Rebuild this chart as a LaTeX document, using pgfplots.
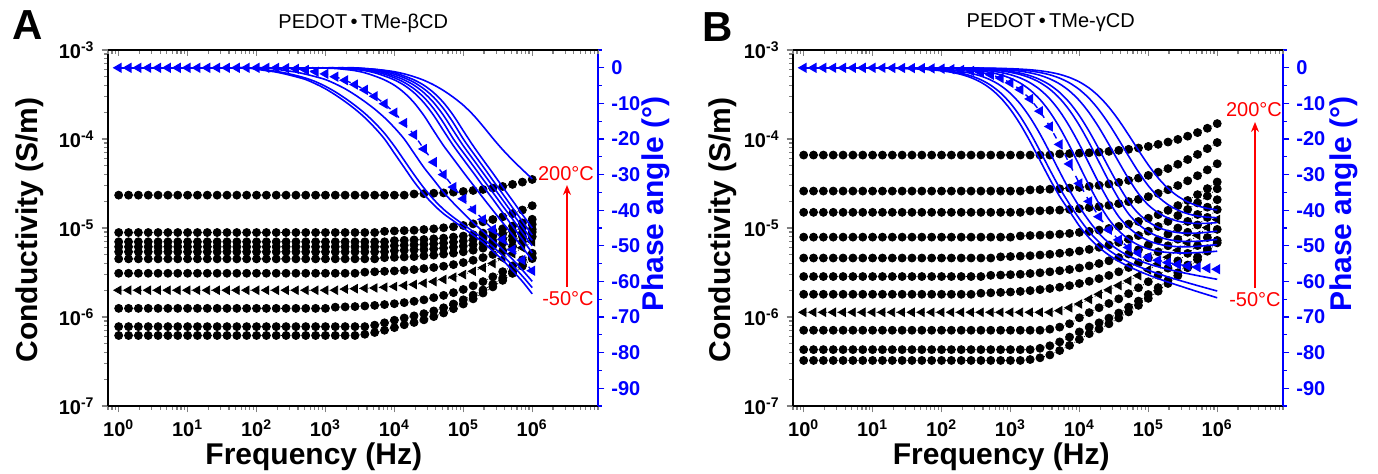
\documentclass[border=0pt]{standalone}
\usepackage{fontspec}
\setmainfont{Liberation Sans}
\usepackage{pgfplots}
\pgfplotsset{compat=1.18}
\usepackage{pgfplotstable}
\usetikzlibrary{arrows.meta}

% Panel A: PEDOT-TMe-beta-CD ; s1..s11 = conductivity (200 C ... -50 C), p1..p11 = phase angle
\pgfplotstableread{
f s1 s2 s3 s4 s5 s6 s7 s8 s9 s10 s11 p1 p2 p3 p4 p5 p6 p7 p8 p9 p10 p11
1 2.34e-5 8.9e-6 7e-6 6.15e-6 5.4e-6 4.5e-6 3.1e-6 2e-6 1.25e-6 7.8e-7 6.2e-7 0 0 0 0 0 0 0 0 0 0 0
1.3895 2.34e-5 8.9e-6 7e-6 6.15e-6 5.4e-6 4.5e-6 3.1e-6 2e-6 1.25e-6 7.8e-7 6.2e-7 0 0 0 0 0 0 0 0 0 0 0
1.9307 2.34e-5 8.9e-6 7e-6 6.15e-6 5.4e-6 4.5e-6 3.1e-6 2e-6 1.25e-6 7.8e-7 6.2e-7 0 0 0 0 0 0 0 0 0 0 0
2.6827 2.34e-5 8.9e-6 7e-6 6.15e-6 5.4e-6 4.5e-6 3.1e-6 2e-6 1.25e-6 7.8e-7 6.2e-7 0 0 0 0 0 0 0 0 0 0 0
3.7276 2.34e-5 8.9e-6 7e-6 6.15e-6 5.4e-6 4.5e-6 3.1e-6 2e-6 1.25e-6 7.8e-7 6.2e-7 0 0 0 0 0 0 0 0 0 0 0
5.1795 2.34e-5 8.9e-6 7e-6 6.15e-6 5.4e-6 4.5e-6 3.1e-6 2e-6 1.25e-6 7.8e-7 6.2e-7 0 0 0 0 0 0 0 0 0 0 0
7.1969 2.34e-5 8.9e-6 7e-6 6.15e-6 5.4e-6 4.5e-6 3.1e-6 2e-6 1.25e-6 7.8e-7 6.2e-7 0 0 0 0 0 0 0 0 0 0 0
10 2.34e-5 8.9e-6 7e-6 6.15e-6 5.4e-6 4.5e-6 3.1e-6 2e-6 1.25e-6 7.8e-7 6.2e-7 0 0 0 0 0 0 0 0 0 0 0
13.895 2.34e-5 8.9e-6 7e-6 6.15e-6 5.4e-6 4.5e-6 3.1e-6 2e-6 1.25e-6 7.8e-7 6.2e-7 0 0 0 0 0 0 0 0 0 0 0
19.307 2.34e-5 8.9e-6 7e-6 6.15e-6 5.4e-6 4.5e-6 3.1e-6 2e-6 1.25e-6 7.8e-7 6.2e-7 0 0 0 0 0 0 0 0 0 0 0
26.827 2.34e-5 8.9e-6 7e-6 6.15e-6 5.4e-6 4.5e-6 3.1e-6 2e-6 1.25e-6 7.8e-7 6.2e-7 0 0 0 0 0 0 0 0 0 0 0
37.276 2.34e-5 8.9e-6 7e-6 6.15e-6 5.4e-6 4.5e-6 3.1e-6 2e-6 1.25e-6 7.8e-7 6.2e-7 0 0 0 0 0 0 0 0 0 0 0
51.795 2.34e-5 8.9e-6 7e-6 6.15e-6 5.4e-6 4.5e-6 3.1e-6 2e-6 1.25e-6 7.8e-7 6.2e-7 0 0 0 0 0 0 0 0 0 0 0
71.969 2.34e-5 8.9e-6 7e-6 6.15e-6 5.4e-6 4.5e-6 3.1e-6 2e-6 1.25e-6 7.8e-7 6.2e-7 0 0 0 0 0 0 0 0 0 0 0
100 2.34e-5 8.9e-6 7e-6 6.15e-6 5.4e-6 4.5e-6 3.1e-6 2e-6 1.25e-6 7.8e-7 6.2e-7 0 0 0 0 0 0 0 0 0 -0.2 -0.4
138.95 2.34e-5 8.9e-6 7e-6 6.15e-6 5.4e-6 4.5e-6 3.1e-6 2e-6 1.25e-6 7.8e-7 6.2e-7 0 0 0 0 0 0 0 0 0 -0.6 -0.8
193.07 2.34e-5 8.9e-6 7e-6 6.15e-6 5.4e-6 4.5e-6 3.1e-6 2e-6 1.25e-6 7.8e-7 6.2e-7 0 0 0 0 0 0 0 0 -0.4 -1.0 -1.2
268.27 2.34e-5 8.9e-6 7e-6 6.15e-6 5.4e-6 4.5e-6 3.1e-6 2e-6 1.25e-6 7.8e-7 6.2e-7 0 0 0 0 0 0 0 -0.1 -0.8 -1.5 -1.8
372.76 2.34e-5 8.9e-6 7e-6 6.15e-6 5.4e-6 4.5e-6 3.1e-6 2e-6 1.25e-6 7.8e-7 6.2e-7 0 0 0 0 0 0 0 -0.3 -1.2 -2.15 -2.5
517.95 2.34e-5 8.9e-6 7e-6 6.15e-6 5.4e-6 4.5e-6 3.1e-6 2e-6 1.25e-6 7.8e-7 6.2e-7 0 0 0 0 0 0 0 -0.6 -1.8 -2.9 -3.3
719.69 2.34e-5 8.9e-6 7e-6 6.15e-6 5.4e-6 4.5e-6 3.1e-6 2e-6 1.25e-6 7.8e-7 6.2e-7 0 0 0 0 0 0 0 -1.1 -2.5 -3.9 -4.5
1000 2.34e-5 8.9e-6 7e-6 6.15e-6 5.4e-6 4.5e-6 3.1e-6 2e-6 1.25e-6 7.8e-7 6.2e-7 0 0 0 0 0 0 -0.07 -1.7 -3.3 -5.2 -5.9
1389.5 2.34e-5 8.9e-6 7e-6 6.15e-6 5.4e-6 4.5e-6 3.1e-6 2e-6 1.29e-6 7.8e-7 6.2e-7 0 0 0 0 0 -0.07 -0.2 -2.5 -4.5 -6.75 -7.6
1930.7 2.34e-5 8.9e-6 7e-6 6.15e-6 5.4e-6 4.5e-6 3.1e-6 2.06e-6 1.30e-6 7.8e-7 6.2e-7 0 0 0 -0.07 -0.15 -0.2 -0.45 -3.5 -5.9 -8.55 -9.5
2682.7 2.34e-5 8.9e-6 7e-6 6.15e-6 5.4e-6 4.5e-6 3.1e-6 2.08e-6 1.31e-6 7.8e-7 6.2e-7 0 -0.07 -0.15 -0.2 -0.3 -0.45 -0.8 -4.7 -7.6 -10.55 -11.6
3727.6 2.34e-5 8.9e-6 7e-6 6.15e-6 5.4e-6 4.5e-6 3.19e-6 2.10e-6 1.33e-6 7.8e-7 6.4e-7 -0.2 -0.2 -0.3 -0.45 -0.6 -0.8 -1.4 -6.2 -9.5 -12.8 -14.0
5179.5 2.34e-5 8.9e-6 7e-6 6.15e-6 5.4e-6 4.5e-6 3.22e-6 2.12e-6 1.35e-6 8.1e-7 6.7e-7 -0.4 -0.45 -0.6 -0.8 -1.1 -1.4 -2.3 -8.0 -11.6 -15.4 -16.8
7196.9 2.34e-5 9.17e-6 7e-6 6.15e-6 5.4e-6 4.64e-6 3.26e-6 2.16e-6 1.38e-6 8.6e-7 7.1e-7 -0.7 -0.8 -1.1 -1.4 -1.8 -2.3 -3.4 -10.1 -14 -18.4 -20
10000 2.34e-5 9.26e-6 7.21e-6 6.33e-6 5.56e-6 4.68e-6 3.29e-6 2.20e-6 1.41e-6 9.2e-7 7.6e-7 -1.1 -1.4 -1.8 -2.3 -2.8 -3.4 -4.9 -12.6 -16.8 -22 -24
13895 2.34e-5 9.35e-6 7.28e-6 6.40e-6 5.62e-6 4.73e-6 3.35e-6 2.26e-6 1.45e-6 9.75e-7 8.18e-7 -1.7 -2.3 -2.8 -3.4 -4.1 -4.9 -7.0 -15.5 -20 -26 -28
19307 2.41e-5 9.43e-6 7.35e-6 6.46e-6 5.67e-6 4.77e-6 3.41e-6 2.32e-6 1.50e-6 1.03e-6 8.68e-7 -2.5 -3.4 -4.1 -4.9 -5.9 -7.0 -9.8 -18.8 -24 -30 -32
26827 2.43e-5 9.61e-6 7.42e-6 6.52e-6 5.72e-6 4.86e-6 3.50e-6 2.40e-6 1.56e-6 1.09e-6 9.30e-7 -3.5 -4.9 -5.9 -7.0 -8.3 -9.8 -13.4 -22.8 -28 -33.75 -35.5
37276 2.46e-5 9.79e-6 7.56e-6 6.64e-6 5.83e-6 4.95e-6 3.60e-6 2.50e-6 1.65e-6 1.17e-6 1.01e-6 -4.8 -7.0 -8.3 -9.8 -11.5 -13.4 -17.7 -26.5 -31.5 -37 -38.5
51795 2.48e-5 1.006e-5 7.70e-6 6.77e-6 5.94e-6 5.09e-6 3.72e-6 2.64e-6 1.75e-6 1.27e-6 1.11e-6 -6.4 -9.8 -11.5 -13.4 -15.5 -17.7 -21.9 -30 -35 -39.75 -41
71969 2.53e-5 1.032e-5 7.91e-6 6.95e-6 6.10e-6 5.22e-6 3.88e-6 2.80e-6 1.88e-6 1.40e-6 1.24e-6 -8.3 -13.4 -15.5 -17.7 -20 -21.9 -25.6 -33.5 -38 -42 -43
100000 2.57e-5 1.068e-5 8.12e-6 7.13e-6 6.26e-6 5.40e-6 4.09e-6 3.00e-6 2.04e-6 1.56e-6 1.40e-6 -10.5 -17.7 -20 -21.9 -23.8 -25.7 -29.3 -36.8 -40.8 -44 -45
138950 2.64e-5 1.113e-5 8.40e-6 7.38e-6 6.48e-6 5.63e-6 4.34e-6 3.26e-6 2.24e-6 1.76e-6 1.60e-6 -13.2 -21.9 -23.9 -25.7 -27.5 -29.4 -32.9 -39.8 -43.5 -46 -47
193070 2.71e-5 1.175e-5 8.75e-6 7.69e-6 6.75e-6 5.94e-6 4.65e-6 3.58e-6 2.5e-6 2.01e-6 1.86e-6 -16.4 -25.8 -27.7 -29.5 -31.3 -33.2 -36.5 -42.6 -46 -48 -49
268270 2.81e-5 1.246e-5 9.24e-6 8.12e-6 7.13e-6 6.30e-6 5.05e-6 4.0e-6 2.83e-6 2.34e-6 2.18e-6 -19.8 -29.6 -31.6 -33.3 -35 -36.9 -40 -45.4 -48.5 -50.25 -51.5
372760 2.93e-5 1.335e-5 9.80e-6 8.61e-6 7.56e-6 6.75e-6 5.55e-6 4.52e-6 3.23e-6 2.74e-6 2.58e-6 -23.0 -33.5 -35.4 -37.1 -38.8 -40.7 -43.5 -48.2 -51 -52.75 -54
517950 3.09e-5 1.451e-5 1.05e-5 9.23e-6 8.10e-6 7.34e-6 6.2e-6 5.16e-6 3.75e-6 3.24e-6 3.09e-6 -25.9 -37.3 -39.3 -40.9 -42.5 -44.5 -46.9 -51.1 -53.8 -55.5 -57
719690 3.28e-5 1.593e-5 1.141e-5 1.002e-5 8.80e-6 8.06e-6 7.01e-6 6.0e-6 4.39e-6 3.88e-6 3.73e-6 -28.6 -41.2 -43.1 -44.7 -46.3 -48.2 -50.4 -54 -56.8 -58.5 -60
1000000 3.51e-5 1.78e-5 1.253e-5 1.101e-5 9.67e-6 9.0e-6 8.0e-6 7.02e-6 5.2e-6 4.69e-6 4.53e-6 -31.2 -45 -47 -48.5 -50 -52 -54 -57 -60 -61.75 -63.5
}\tA

% Panel B: PEDOT-TMe-gamma-CD
\pgfplotstableread{
f s1 s2 s3 s4 s5 s6 s7 s8 s9 s10 s11 p1 p2 p3 p4 p5 p6 p7 p8 p9 p10 p11
1 6.6e-5 2.6e-5 1.5e-5 7.9e-6 4.6e-6 2.85e-6 1.8e-6 1.13e-6 7.1e-7 4.3e-7 3.25e-7 0 0 0 0 0 0 0 0 0 0 0
1.3895 6.6e-5 2.6e-5 1.5e-5 7.9e-6 4.6e-6 2.85e-6 1.8e-6 1.13e-6 7.1e-7 4.3e-7 3.25e-7 0 0 0 0 0 0 0 0 0 0 0
1.9307 6.6e-5 2.6e-5 1.5e-5 7.9e-6 4.6e-6 2.85e-6 1.8e-6 1.13e-6 7.1e-7 4.3e-7 3.25e-7 0 0 0 0 0 0 0 0 0 0 0
2.6827 6.6e-5 2.6e-5 1.5e-5 7.9e-6 4.6e-6 2.85e-6 1.8e-6 1.13e-6 7.1e-7 4.3e-7 3.25e-7 0 0 0 0 0 0 0 0 0 0 0
3.7276 6.6e-5 2.6e-5 1.5e-5 7.9e-6 4.6e-6 2.85e-6 1.8e-6 1.13e-6 7.1e-7 4.3e-7 3.25e-7 0 0 0 0 0 0 0 0 0 0 0
5.1795 6.6e-5 2.6e-5 1.5e-5 7.9e-6 4.6e-6 2.85e-6 1.8e-6 1.13e-6 7.1e-7 4.3e-7 3.25e-7 0 0 0 0 0 0 0 0 0 0 0
7.1969 6.6e-5 2.6e-5 1.5e-5 7.9e-6 4.6e-6 2.85e-6 1.8e-6 1.13e-6 7.1e-7 4.3e-7 3.25e-7 0 0 0 0 0 0 0 0 0 0 -0.03
10 6.6e-5 2.6e-5 1.5e-5 7.9e-6 4.6e-6 2.85e-6 1.8e-6 1.13e-6 7.1e-7 4.3e-7 3.25e-7 0 0 0 0 0 0 0 0 0 -0.04 -0.05
13.895 6.6e-5 2.6e-5 1.5e-5 7.9e-6 4.6e-6 2.85e-6 1.8e-6 1.13e-6 7.1e-7 4.3e-7 3.25e-7 0 0 0 0 0 0 0 0 -0.04 -0.06 -0.07
19.307 6.6e-5 2.6e-5 1.5e-5 7.9e-6 4.6e-6 2.85e-6 1.8e-6 1.13e-6 7.1e-7 4.3e-7 3.25e-7 0 0 0 0 0 0 0 -0.03 -0.06 -0.09 -0.11
26.827 6.6e-5 2.6e-5 1.5e-5 7.9e-6 4.6e-6 2.85e-6 1.8e-6 1.13e-6 7.1e-7 4.3e-7 3.25e-7 0 0 0 0 0 0 -0.03 -0.05 -0.09 -0.13 -0.17
37.276 6.6e-5 2.6e-5 1.5e-5 7.9e-6 4.6e-6 2.85e-6 1.8e-6 1.13e-6 7.1e-7 4.3e-7 3.25e-7 0 0 0 0 0 -0.03 -0.05 -0.08 -0.14 -0.20 -0.24
51.795 6.6e-5 2.6e-5 1.5e-5 7.9e-6 4.6e-6 2.85e-6 1.8e-6 1.13e-6 7.1e-7 4.3e-7 3.25e-7 0 0 0 -0.02 -0.03 -0.05 -0.08 -0.11 -0.21 -0.30 -0.37
71.969 6.6e-5 2.6e-5 1.5e-5 7.9e-6 4.6e-6 2.85e-6 1.8e-6 1.13e-6 7.1e-7 4.3e-7 3.25e-7 0 0 -0.02 -0.04 -0.05 -0.08 -0.12 -0.17 -0.31 -0.46 -0.56
100 6.6e-5 2.6e-5 1.5e-5 7.9e-6 4.6e-6 2.85e-6 1.8e-6 1.13e-6 7.1e-7 4.3e-7 3.25e-7 0 -0.02 -0.04 -0.06 -0.07 -0.11 -0.18 -0.25 -0.47 -0.69 -0.84
138.95 6.6e-5 2.6e-5 1.5e-5 7.9e-6 4.6e-6 2.85e-6 1.8e-6 1.13e-6 7.1e-7 4.3e-7 3.25e-7 -0.02 -0.03 -0.05 -0.09 -0.11 -0.17 -0.26 -0.38 -0.70 -1.02 -1.25
193.07 6.6e-5 2.6e-5 1.5e-5 7.9e-6 4.6e-6 2.85e-6 1.8e-6 1.13e-6 7.1e-7 4.3e-7 3.25e-7 -0.03 -0.05 -0.08 -0.13 -0.17 -0.25 -0.39 -0.58 -1.04 -1.53 -1.87
268.27 6.6e-5 2.6e-5 1.5e-5 7.9e-6 4.6e-6 2.85e-6 1.8e-6 1.13e-6 7.1e-7 4.3e-7 3.25e-7 -0.05 -0.08 -0.12 -0.20 -0.25 -0.38 -0.59 -0.87 -1.56 -2.28 -2.77
372.76 6.6e-5 2.6e-5 1.5e-5 7.9e-6 4.6e-6 2.85e-6 1.85e-6 1.13e-6 7.1e-7 4.3e-7 3.25e-7 -0.07 -0.12 -0.19 -0.30 -0.38 -0.58 -0.89 -1.30 -2.32 -3.36 -4.06
517.95 6.6e-5 2.6e-5 1.5e-5 7.9e-6 4.6e-6 2.94e-6 1.87e-6 1.13e-6 7.1e-7 4.3e-7 3.25e-7 -0.11 -0.18 -0.28 -0.45 -0.57 -0.87 -1.33 -1.94 -3.43 -4.90 -5.90
719.69 6.6e-5 2.6e-5 1.5e-5 7.9e-6 4.74e-6 2.96e-6 1.89e-6 1.13e-6 7.1e-7 4.3e-7 3.25e-7 -0.16 -0.26 -0.42 -0.67 -0.85 -1.30 -1.97 -2.87 -5.00 -7.06 -8.41
1000 6.6e-5 2.6e-5 1.5e-5 7.9e-6 4.78e-6 2.99e-6 1.91e-6 1.13e-6 7.1e-7 4.3e-7 3.25e-7 -0.24 -0.40 -0.63 -1.00 -1.28 -1.94 -2.93 -4.22 -7.20 -9.96 -11.73
1389.5 6.6e-5 2.6e-5 1.5e-5 8.14e-6 4.83e-6 3.02e-6 1.94e-6 1.13e-6 7.1e-7 4.3e-7 3.25e-7 -0.37 -0.59 -0.95 -1.50 -1.90 -2.87 -4.30 -6.13 -10.15 -13.70 -15.88
1930.7 6.6e-5 2.68e-5 1.55e-5 8.22e-6 4.88e-6 3.08e-6 1.98e-6 1.13e-6 7.1e-7 4.3e-7 3.33e-7 -0.55 -0.89 -1.42 -2.23 -2.82 -4.22 -6.24 -8.74 -13.97 -18.23 -20.72
2682.7 6.6e-5 2.70e-5 1.56e-5 8.30e-6 4.97e-6 3.14e-6 2.03e-6 1.13e-6 7.1e-7 4.45e-7 3.48e-7 -0.83 -1.33 -2.10 -3.30 -4.14 -6.13 -8.90 -12.18 -18.58 -23.34 -26.0
3727.6 6.6e-5 2.73e-5 1.58e-5 8.37e-6 5.06e-6 3.22e-6 2.09e-6 1.13e-6 7.3e-7 4.75e-7 3.75e-7 -1.24 -1.97 -3.11 -4.81 -6.02 -8.74 -12.41 -16.49 -23.79 -28.66 -31.28
5179.5 6.80e-5 2.76e-5 1.59e-5 8.53e-6 5.20e-6 3.31e-6 2.16e-6 1.18e-6 7.7e-7 5.25e-7 4.2e-7 -1.84 -2.91 -4.53 -6.93 -8.58 -12.18 -16.79 -21.51 -29.21 -33.77 -36.12
7196.9 6.86e-5 2.81e-5 1.62e-5 8.69e-6 5.34e-6 3.42e-6 2.25e-6 1.27e-6 8.4e-7 5.95e-7 4.8e-7 -2.72 -4.24 -6.52 -9.77 -11.96 -16.49 -21.91 -27.0 -34.42 -38.30 -40.27
10000 6.93e-5 2.86e-5 1.65e-5 8.93e-6 5.52e-6 3.56e-6 2.38e-6 1.40e-6 9.8e-7 6.8e-7 5.6e-7 -3.96 -6.11 -9.20 -13.44 -16.18 -21.51 -27.5 -32.49 -39.03 -42.41 -44.43
13895 7.0e-5 2.94e-5 1.70e-5 9.16e-6 5.75e-6 3.76e-6 2.52e-6 1.58e-6 1.12e-6 7.70e-7 6.5e-7 -5.70 -8.62 -12.65 -17.88 -21.12 -27.0 -33.09 -37.51 -43.09 -46.05 -47.78
19307 7.13e-5 3.02e-5 1.74e-5 9.48e-6 6.07e-6 3.99e-6 2.70e-6 1.80e-6 1.271e-6 8.6e-7 7.34e-7 -8.05 -11.86 -16.82 -22.89 -26.5 -32.49 -38.21 -41.82 -46.52 -48.95 -50.47
26827 7.26e-5 3.12e-5 1.80e-5 9.88e-6 6.44e-6 4.28e-6 2.93e-6 2.02e-6 1.42e-6 9.72e-7 8.39e-7 -11.07 -15.77 -21.54 -28.11 -31.88 -37.51 -42.59 -45.49 -49.20 -51.23 -52.60
37276 7.46e-5 3.25e-5 1.88e-5 1.043e-5 6.90e-6 4.65e-6 3.22e-6 2.26e-6 1.60e-6 1.109e-6 9.75e-7 -14.72 -20.20 -26.46 -33.12 -36.82 -41.82 -45.80 -48.32 -51.25 -53.05 -54.34
51795 7.66e-5 3.43e-5 1.98e-5 1.106e-5 7.50e-6 5.10e-6 3.6e-6 2.55e-6 1.83e-6 1.29e-6 1.141e-6 -18.85 -24.80 -31.18 -37.56 -41.04 -44.85 -48.16 -50.46 -52.84 -54.55 -55.80
71969 7.92e-5 3.64e-5 2.10e-5 1.185e-5 8.23e-6 5.7e-6 4.07e-6 2.92e-6 2.13e-6 1.51e-6 1.352e-6 -23.15 -29.23 -35.35 -40.95 -43.93 -47.05 -49.80 -52.03 -54.07 -55.80 -57.05
100000 8.25e-5 3.90e-5 2.25e-5 1.288e-5 9.2e-6 6.44e-6 4.64e-6 3.39e-6 2.49e-6 1.79e-6 1.62e-6 -27.28 -33.14 -38.54 -43.24 -46.00 -48.55 -50.87 -53.19 -55.07 -56.87 -58.18
138950 8.71e-5 4.24e-5 2.45e-5 1.414e-5 1.04e-5 7.35e-6 5.4e-6 3.97e-6 2.95e-6 2.14e-6 1.95e-6 -30.93 -36.22 -40.70 -44.81 -47.39 -49.49 -51.53 -54.05 -55.89 -57.84 -59.21
193070 9.24e-5 4.65e-5 2.69e-5 1.58e-5 1.187e-5 8.55e-6 6.32e-6 4.70e-6 3.54e-6 2.58e-6 2.38e-6 -33.87 -38.42 -42.17 -45.77 -48.22 -50.01 -51.87 -54.71 -56.60 -58.74 -60.18
268270 9.9e-5 5.2e-5 3.0e-5 1.785e-5 1.38e-5 1.0e-5 7.49e-6 5.63e-6 4.27e-6 3.14e-6 2.91e-6 -36.07 -39.98 -43.07 -46.29 -48.65 -50.24 -52.01 -55.22 -57.24 -59.58 -61.09
372760 1.076e-4 5.88e-5 3.39e-5 2.04e-5 1.615e-5 1.186e-5 8.96e-6 6.79e-6 5.19e-6 3.84e-6 3.58e-6 -37.66 -41.00 -43.56 -46.47 -48.78 -50.26 -52.01 -55.65 -57.82 -60.38 -61.99
517950 1.181e-4 6.71e-5 3.87e-5 2.37e-5 1.914e-5 1.419e-5 1.082e-5 8.26e-6 6.35e-6 4.73e-6 4.42e-6 -38.75 -41.63 -43.72 -46.42 -48.72 -50.14 -51.91 -56.00 -58.37 -61.17 -62.88
719690 1.32e-4 7.8e-5 4.5e-5 2.77e-5 2.29e-5 1.713e-5 1.316e-5 1.01e-5 7.81e-6 5.84e-6 5.48e-6 -39.48 -41.96 -43.67 -46.20 -48.51 -49.93 -51.74 -56.31 -58.90 -61.94 -63.74
1000000 1.49e-4 9.13e-5 5.27e-5 3.29e-5 2.76e-5 2.08e-5 1.609e-5 1.243e-5 9.65e-6 7.25e-6 6.81e-6 -39.93 -42.09 -43.47 -45.87 -48.21 -49.65 -51.52 -56.59 -59.41 -62.70 -64.60
}\tB

\begin{document}
\begin{tikzpicture}
\path[use as bounding box] (0,0) rectangle (689pt,236.5pt);

% ================= Panel A =================
\begin{axis}[
  at={(54pt,33.5pt)}, anchor=south west, scale only axis, width=245pt, height=178pt,
  xmode=log, ymode=log, xmin=0.7, xmax=9e6, ymin=1e-7, ymax=1e-3,
  axis x line*=bottom, axis y line*=left, tick align=outside,
  axis line style={-, line width=0.8pt},
  major tick length=3.2pt, minor tick length=1.8pt,
  every tick/.append style={line width=0.6pt},
  every tick label/.append style={font=\fontsize{10}{12}\selectfont\bfseries},
  xtick={1,10,100,1000,10000,100000,1000000},
  minor xtick={0.7,0.8,0.9,2,3,4,5,6,7,8,9,20,30,40,50,60,70,80,90,200,300,400,500,600,700,800,900,2000,3000,4000,5000,6000,7000,8000,9000,20000,30000,40000,50000,60000,70000,80000,90000,200000,300000,400000,500000,600000,700000,800000,900000,2000000,3000000,4000000,5000000,6000000,7000000,8000000,9000000},
  xticklabels={10\textsuperscript{0},10\textsuperscript{1},10\textsuperscript{2},10\textsuperscript{3},10\textsuperscript{4},10\textsuperscript{5},10\textsuperscript{6}},
  ytick={1e-7,1e-6,1e-5,1e-4,1e-3},
  yticklabels={10\textsuperscript{-7},10\textsuperscript{-6},10\textsuperscript{-5},10\textsuperscript{-4},10\textsuperscript{-3}},
  minor ytick={2e-7,3e-7,4e-7,5e-7,6e-7,7e-7,8e-7,9e-7,2e-6,3e-6,4e-6,5e-6,6e-6,7e-6,8e-6,9e-6,2e-5,3e-5,4e-5,5e-5,6e-5,7e-5,8e-5,9e-5,2e-4,3e-4,4e-4,5e-4,6e-4,7e-4,8e-4,9e-4},
  xlabel={Frequency (Hz)}, ylabel={Conductivity (S/m)},
  xlabel style={at={(axis description cs:0.42,-0.142)}, anchor=center, font=\fontsize{15}{18}\selectfont\bfseries},
  ylabel style={at={(axis description cs:-0.16,0.494)}, anchor=center, font=\fontsize{15}{18}\selectfont\bfseries},
  title={PEDOT\,•\,TMe-βCD},
  title style={at={(axis description cs:0.521,1.042)}, anchor=center, font=\fontsize{10}{12}\selectfont},
]
\pgfplotsinvokeforeach{1,2,3,4,5,6,7,9,10,11}{
  \addplot[black, densely dotted, line width=0.4pt, mark=*, mark size=2pt, mark options={solid, fill=black}] table[x=f,y=s#1]{\tA};
}
\addplot[black, densely dotted, line width=0.4pt, mark=triangle*, mark size=2.4pt, mark options={solid, rotate=90, fill=black}] table[x=f,y=s8]{\tA};
\end{axis}

\begin{axis}[
  at={(54pt,33.5pt)}, anchor=south west, scale only axis, width=245pt, height=178pt,
  xmode=log, xmin=0.7, xmax=9e6, ymin=-95, ymax=5,
  axis y line*=right, axis x line=none, tick align=outside,
  axis line style={-, blue, line width=0.8pt},
  major tick length=3.2pt, minor tick length=1.8pt,
  every tick/.append style={blue, line width=0.6pt},
  every tick label/.append style={font=\fontsize{10}{12}\selectfont\bfseries, text=blue},
  ytick={0,-10,-20,-30,-40,-50,-60,-70,-80,-90},
  yticklabels={0,-10,-20,-30,-40,-50,-60,-70,-80,-90},
  minor ytick={5,-5,-15,-25,-35,-45,-55,-65,-75,-85,-95},
  ylabel={Phase angle (°)},
  ylabel style={at={(axis description cs:1.119,0.567)}, anchor=center, text=blue, font=\fontsize{15}{18}\selectfont\bfseries},
]
\pgfplotsinvokeforeach{1,2,3,4,5,6,7,9,10,11}{
  \addplot[blue, line width=0.8pt, no markers, smooth] table[x=f,y=p#1]{\tA};
}
\addplot[blue, dashed, line width=0.7pt, mark=triangle*, mark size=2.3pt, mark options={solid, rotate=90, fill=blue}] table[x=f,y=p8]{\tA};
\end{axis}

\begin{axis}[
  at={(54pt,33.5pt)}, anchor=south west, scale only axis, width=245pt, height=178pt,
  xmode=log, xmin=0.7, xmax=9e6, ymin=0, ymax=1,
  axis x line*=top, axis y line=none, tick align=inside,
  axis line style={-, line width=0.8pt},
  major tick length=3.2pt, minor tick length=1.8pt,
  every tick/.append style={line width=0.6pt},
  xtick={1,10,100,1000,10000,100000,1000000}, xticklabels={},
  minor xtick={0.7,0.8,0.9,2,3,4,5,6,7,8,9,20,30,40,50,60,70,80,90,200,300,400,500,600,700,800,900,2000,3000,4000,5000,6000,7000,8000,9000,20000,30000,40000,50000,60000,70000,80000,90000,200000,300000,400000,500000,600000,700000,800000,900000,2000000,3000000,4000000,5000000,6000000,7000000,8000000,9000000},
]
\end{axis}

% ================= Panel B =================
\begin{axis}[
  at={(396.5pt,33.5pt)}, anchor=south west, scale only axis, width=245pt, height=178pt,
  xmode=log, ymode=log, xmin=0.7, xmax=9e6, ymin=1e-7, ymax=1e-3,
  axis x line*=bottom, axis y line*=left, tick align=outside,
  axis line style={-, line width=0.8pt},
  major tick length=3.2pt, minor tick length=1.8pt,
  every tick/.append style={line width=0.6pt},
  every tick label/.append style={font=\fontsize{10}{12}\selectfont\bfseries},
  xtick={1,10,100,1000,10000,100000,1000000},
  minor xtick={0.7,0.8,0.9,2,3,4,5,6,7,8,9,20,30,40,50,60,70,80,90,200,300,400,500,600,700,800,900,2000,3000,4000,5000,6000,7000,8000,9000,20000,30000,40000,50000,60000,70000,80000,90000,200000,300000,400000,500000,600000,700000,800000,900000,2000000,3000000,4000000,5000000,6000000,7000000,8000000,9000000},
  xticklabels={10\textsuperscript{0},10\textsuperscript{1},10\textsuperscript{2},10\textsuperscript{3},10\textsuperscript{4},10\textsuperscript{5},10\textsuperscript{6}},
  ytick={1e-7,1e-6,1e-5,1e-4,1e-3},
  yticklabels={10\textsuperscript{-7},10\textsuperscript{-6},10\textsuperscript{-5},10\textsuperscript{-4},10\textsuperscript{-3}},
  minor ytick={2e-7,3e-7,4e-7,5e-7,6e-7,7e-7,8e-7,9e-7,2e-6,3e-6,4e-6,5e-6,6e-6,7e-6,8e-6,9e-6,2e-5,3e-5,4e-5,5e-5,6e-5,7e-5,8e-5,9e-5,2e-4,3e-4,4e-4,5e-4,6e-4,7e-4,8e-4,9e-4},
  xlabel={Frequency (Hz)}, ylabel={Conductivity (S/m)},
  xlabel style={at={(axis description cs:0.425,-0.142)}, anchor=center, font=\fontsize{15}{18}\selectfont\bfseries},
  ylabel style={at={(axis description cs:-0.144,0.494)}, anchor=center, font=\fontsize{15}{18}\selectfont\bfseries},
  title={PEDOT\,•\,TMe-γCD},
  title style={at={(axis description cs:0.526,1.042)}, anchor=center, font=\fontsize{10}{12}\selectfont},
]
\pgfplotsinvokeforeach{1,2,3,4,5,6,7,9,10,11}{
  \addplot[black, densely dotted, line width=0.4pt, mark=*, mark size=2pt, mark options={solid, fill=black}] table[x=f,y=s#1]{\tB};
}
\addplot[black, densely dotted, line width=0.4pt, mark=triangle*, mark size=2.4pt, mark options={solid, rotate=90, fill=black}] table[x=f,y=s8]{\tB};
\end{axis}

\begin{axis}[
  at={(396.5pt,33.5pt)}, anchor=south west, scale only axis, width=245pt, height=178pt,
  xmode=log, xmin=0.7, xmax=9e6, ymin=-95, ymax=5,
  axis y line*=right, axis x line=none, tick align=outside,
  axis line style={-, blue, line width=0.8pt},
  major tick length=3.2pt, minor tick length=1.8pt,
  every tick/.append style={blue, line width=0.6pt},
  every tick label/.append style={font=\fontsize{10}{12}\selectfont\bfseries, text=blue},
  ytick={0,-10,-20,-30,-40,-50,-60,-70,-80,-90},
  yticklabels={0,-10,-20,-30,-40,-50,-60,-70,-80,-90},
  minor ytick={5,-5,-15,-25,-35,-45,-55,-65,-75,-85,-95},
  ylabel={Phase angle (°)},
  ylabel style={at={(axis description cs:1.124,0.567)}, anchor=center, text=blue, font=\fontsize{15}{18}\selectfont\bfseries},
]
\pgfplotsinvokeforeach{1,2,3,4,5,6,7,9,10,11}{
  \addplot[blue, line width=0.8pt, no markers, smooth] table[x=f,y=p#1]{\tB};
}
\addplot[blue, dashed, line width=0.7pt, mark=triangle*, mark size=2.3pt, mark options={solid, rotate=90, fill=blue}] table[x=f,y=p8]{\tB};
\end{axis}

\begin{axis}[
  at={(396.5pt,33.5pt)}, anchor=south west, scale only axis, width=245pt, height=178pt,
  xmode=log, xmin=0.7, xmax=9e6, ymin=0, ymax=1,
  axis x line*=top, axis y line=none, tick align=inside,
  axis line style={-, line width=0.8pt},
  major tick length=3.2pt, minor tick length=1.8pt,
  every tick/.append style={line width=0.6pt},
  xtick={1,10,100,1000,10000,100000,1000000}, xticklabels={},
  minor xtick={0.7,0.8,0.9,2,3,4,5,6,7,8,9,20,30,40,50,60,70,80,90,200,300,400,500,600,700,800,900,2000,3000,4000,5000,6000,7000,8000,9000,20000,30000,40000,50000,60000,70000,80000,90000,200000,300000,400000,500000,600000,700000,800000,900000,2000000,3000000,4000000,5000000,6000000,7000000,8000000,9000000},
]
\end{axis}

% panel letters and temperature arrows
\node[font=\fontsize{21}{24}\selectfont\bfseries] at (14pt,224pt) {A};
\node[font=\fontsize{21}{24}\selectfont\bfseries] at (359pt,223pt) {B};
\draw[red, line width=0.8pt, -{Stealth[length=5pt,width=4pt]}] (283.5pt,93pt) -- (283.5pt,144pt);
\node[red, font=\fontsize{10}{12}\selectfont] at (283pt,149.5pt) {200°C};
\node[red, font=\fontsize{10}{12}\selectfont] at (284pt,87pt) {-50°C};
\draw[red, line width=0.8pt, -{Stealth[length=5pt,width=4pt]}] (627.5pt,92.5pt) -- (627.5pt,175.5pt);
\node[red, font=\fontsize{10}{12}\selectfont] at (627pt,181.5pt) {200°C};
\node[red, font=\fontsize{10}{12}\selectfont] at (627.5pt,86.5pt) {-50°C};
\end{tikzpicture}
\end{document}
